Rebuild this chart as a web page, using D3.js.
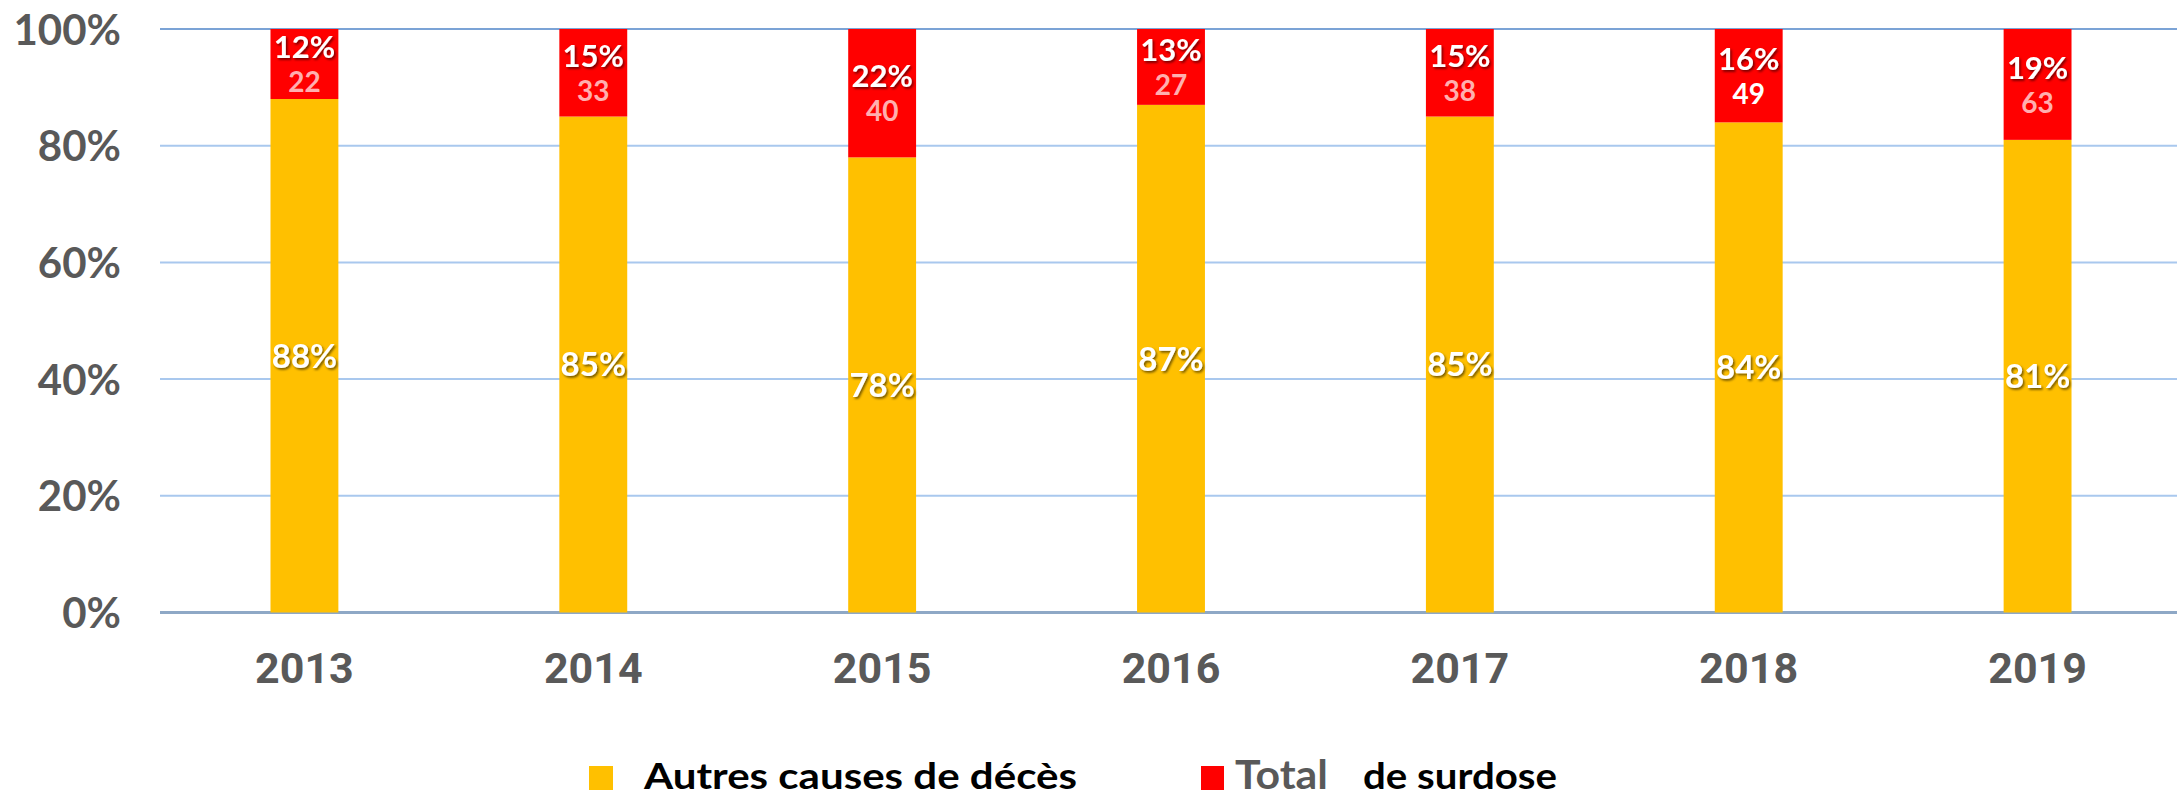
<!DOCTYPE html>
<html>
<head>
<meta charset="utf-8">
<script src="https://cdn.jsdelivr.net/npm/d3@7"></script>
<style>
  html, body { margin: 0; padding: 0; background: #fff; }
  svg { display: block; }
</style>
</head>
<body>
<svg id="chart" width="2177" height="797"></svg>
<script>
// ---- data ----
const years = ["2013", "2014", "2015", "2016", "2017", "2018", "2019"];
const autresPct = [88, 85, 78, 87, 85, 84, 81];
const surdosePct = [12, 15, 22, 13, 15, 16, 19];
const surdoseCount = [22, 33, 40, 27, 38, 49, 63];
const yTickValues = [0, 20, 40, 60, 80, 100];
const yTickLabels = ["0%", "20%", "40%", "60%", "80%", "100%"];
const seriesNames = ["Autres causes de décès", "Total", "de surdose"];
const whiteCountYears = ["2018"];

// ---- styles ----
const YELLOW = "#FFC000", RED = "#FF0000", GREY = "#595959";
const W = 2177, H = 797;
const plotLeft = 160, plotRight = 2182, plotTop = 29, plotBottom = 612.5;

const svg = d3.select("#chart");
const defs = svg.append("defs");
const f = defs.append("filter").attr("id", "shadow")
  .attr("x", "-20%").attr("y", "-20%").attr("width", "150%").attr("height", "150%");
f.append("feDropShadow").attr("dx", 1.5).attr("dy", 1.8).attr("stdDeviation", 1)
  .attr("flood-color", "#000").attr("flood-opacity", 0.55);

const x = d3.scaleBand().domain(years).range([plotLeft, plotRight])
  .paddingInner(0.765).paddingOuter(0.3825);
const y = d3.scaleLinear().domain([0, 100]).range([plotBottom, plotTop]);

// gridlines
svg.append("g").selectAll("line").data(yTickValues).join("line")
  .attr("x1", plotLeft).attr("x2", W)
  .attr("y1", d => y(d)).attr("y2", d => y(d))
  .attr("stroke", d => d === 0 ? "#8EA8C6" : (d === 100 ? "#7BA3D6" : "#A9C8EE"))
  .attr("stroke-width", d => d === 0 ? 3 : 2);

// y axis labels
const yAxis = d3.axisLeft(y).tickValues(yTickValues).tickFormat((d, i) => yTickLabels[i]).tickSize(0).tickPadding(0);
const gy = svg.append("g").attr("transform", "translate(121,0)").call(yAxis);
gy.select(".domain").remove();
gy.selectAll("text")
  .attr("font-family", "Lato, 'Open Sans', sans-serif")
  .attr("font-weight", "bold").attr("font-size", 42).attr("fill", GREY)
  .attr("dy", "0.36em");

// x axis labels
const xAxis = d3.axisBottom(x).tickSize(0).tickPadding(0);
const gx = svg.append("g").attr("transform", `translate(0,${plotBottom})`).call(xAxis);
gx.select(".domain").remove();
gx.selectAll("text")
  .attr("font-family", "Roboto, sans-serif")
  .attr("font-weight", "bold").attr("font-size", 43).attr("fill", GREY)
  .attr("y", 70.5).attr("dy", 0);

// stacked bars
const rows = years.map((yr, i) => ({ year: yr, autres: autresPct[i], surdose: surdosePct[i], count: surdoseCount[i] }));
const stack = d3.stack().keys(["autres", "surdose"])(rows);
const colors = { autres: YELLOW, surdose: RED };

const layers = svg.append("g").selectAll("g").data(stack).join("g")
  .attr("fill", d => colors[d.key]);
layers.selectAll("rect").data(d => d).join("rect")
  .attr("x", d => x(d.data.year))
  .attr("width", x.bandwidth())
  .attr("y", d => y(d[1]))
  .attr("height", d => y(d[0]) - y(d[1]));

// labels
const lab = svg.append("g").attr("font-family", "Lato, 'Open Sans', sans-serif").attr("font-weight", "bold")
  .attr("text-anchor", "middle");

// yellow segment %
lab.selectAll("text.autres").data(stack[0]).join("text").attr("class", "autres")
  .attr("x", d => x(d.data.year) + x.bandwidth() / 2)
  .attr("y", d => (y(d[0]) + y(d[1])) / 2)
  .attr("dy", "0.36em")
  .attr("font-size", 33).attr("fill", "#fff").attr("filter", "url(#shadow)")
  .text(d => d.data.autres + "%");

// red segment %
lab.selectAll("text.surd").data(stack[1]).join("text").attr("class", "surd")
  .attr("x", d => x(d.data.year) + x.bandwidth() / 2)
  .attr("y", d => (y(d[0]) + y(d[1])) / 2 - 17)
  .attr("dy", "0.36em")
  .attr("font-size", 31).attr("fill", "#fff").attr("filter", "url(#shadow)")
  .text(d => d.data.surdose + "%");

// red segment counts
lab.selectAll("text.count").data(stack[1]).join("text").attr("class", "count")
  .attr("x", d => x(d.data.year) + x.bandwidth() / 2)
  .attr("y", d => (y(d[0]) + y(d[1])) / 2 + 18)
  .attr("dy", "0.36em")
  .attr("font-size", 28)
  .attr("fill", d => whiteCountYears.includes(d.data.year) ? "#fff" : "rgba(255,255,255,0.7)")
  .text(d => d.data.count);

// legend
const leg = svg.append("g").attr("font-family", "Lato, 'Open Sans', sans-serif").attr("font-weight", "bold");
leg.append("rect").attr("x", 589).attr("y", 766).attr("width", 24).attr("height", 24).attr("fill", YELLOW);
leg.append("text").attr("x", 644).attr("y", 789).attr("font-size", 37).attr("fill", "#000")
  .attr("textLength", 433).attr("lengthAdjust", "spacingAndGlyphs").text(seriesNames[0]);
leg.append("rect").attr("x", 1201).attr("y", 766).attr("width", 23).attr("height", 24).attr("fill", RED);
leg.append("text").attr("x", 1235).attr("y", 789).attr("font-size", 40).attr("fill", GREY)
  .attr("textLength", 93).attr("lengthAdjust", "spacingAndGlyphs").text(seriesNames[1]);
leg.append("text").attr("x", 1363).attr("y", 789).attr("font-size", 37).attr("fill", "#000")
  .attr("textLength", 194).attr("lengthAdjust", "spacingAndGlyphs").text(seriesNames[2]);
</script>
</body>
</html>
